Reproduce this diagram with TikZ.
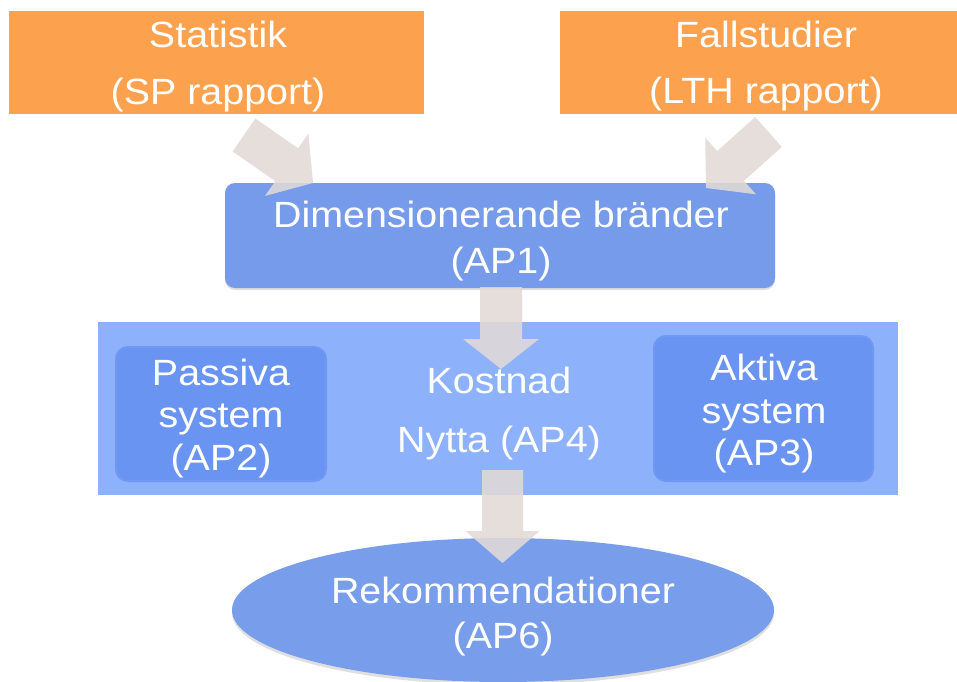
\documentclass[tikz,border=0pt]{standalone}
\usepackage{fontspec}
\setmainfont{Liberation Sans}[FakeStretch=1.08]
\usetikzlibrary{calc,shadows,shapes.geometric}
\definecolor{orangebox}{RGB}{252,161,78}
\definecolor{apblue}{RGB}{118,155,234}
\definecolor{bigblue}{RGB}{141,177,251}
\definecolor{innerblue}{RGB}{106,148,242}
\definecolor{ellblue}{RGB}{120,157,235}
\definecolor{arrowgrey}{RGB}{226,218,215}
\newcommand\blockarr[6]{% start, tip, id, shaft half width, head half width, head length
  \coordinate (#3b) at ($(#2)!#6!(#1)$);
  \fill[arrowfill] ($(#1)!#4!90:(#2)$) -- ($(#3b)!#4!90:(#2)$) -- ($(#3b)!#5!90:(#2)$) -- (#2)
    -- ($(#3b)!#5!-90:(#2)$) -- ($(#3b)!#4!-90:(#2)$) -- ($(#1)!#4!-90:(#2)$) -- cycle;
}
\begin{document}
\begin{tikzpicture}[x=1pt,y=-1pt,
  shapebox/.style={inner sep=0pt, draw=none},
  obox/.style={shapebox, rectangle, fill=orangebox},
  bluebox/.style={shapebox, rectangle, rounded corners=10pt, fill=apblue,
    drop shadow={shadow xshift=0pt, shadow yshift=-2pt, opacity=0.25}},
  innerbox/.style={shapebox, rectangle, rounded corners=12pt, fill=innerblue, draw=innerblue!85!bigblue, line width=2pt},
  arrowfill/.style={fill=arrowgrey, fill opacity=0.88},
  txt/.style={text=white, inner sep=0pt, anchor=base, font=\fontsize{36.5}{44}\selectfont}]
\useasboundingbox (0,0) rectangle (957,681);
\fill[white] (0,0) rectangle (957,681);
% shapes
\node[obox, minimum width=415pt, minimum height=103pt] (stat) at (216.5,62.5) {};
\node[obox, minimum width=412pt, minimum height=103pt] (fall) at (766,62.5) {};
\node[shapebox, rectangle, fill=bigblue, minimum width=800pt, minimum height=173pt] (kn) at (498,408.5) {};
\node[innerbox, minimum width=210pt, minimum height=134pt] (pas) at (221,414) {};
\node[innerbox, minimum width=219pt, minimum height=145pt] (akt) at (763.5,408.5) {};
\node[bluebox, minimum width=550pt, minimum height=105pt] (ap1) at (500,235.5) {};
\node[shapebox, ellipse, fill=ellblue, minimum width=542pt, minimum height=144pt,
  drop shadow={shadow xshift=0pt, shadow yshift=-3pt, opacity=0.25}] (rek) at (503,610) {};
% connectors
\coordinate (s1) at (244,135); \coordinate (t1) at (313,183);
\coordinate (s2) at (768.5,132); \coordinate (t2) at (706,188);
\coordinate (s3) at (501,287); \coordinate (t3) at (501,369);
\coordinate (s4) at (502.5,470); \coordinate (t4) at (502.5,563);
\blockarr{s1}{t1}{a1}{20pt}{38pt}{32pt}
\blockarr{s2}{t2}{a2}{20pt}{38pt}{33pt}
\blockarr{s3}{t3}{a3}{21pt}{38pt}{30pt}
\blockarr{s4}{t4}{a4}{20.5pt}{37pt}{32pt}
% texts
\node[txt] (stat1) at (218,47) {Statistik};
\node[txt] (stat2) at (218,104) {(SP rapport)};
\node[txt] (fall1) at (766,47) {Fallstudier};
\node[txt] (fall2) at (766,103) {(LTH rapport)};
\node[txt] (ap1a) at (501,227) {Dimensionerande bränder};
\node[txt] (ap1b) at (501,273) {(AP1)};
\node[txt] (pas1) at (221,385) {Passiva};
\node[txt] (pas2) at (221,427) {system};
\node[txt] (pas3) at (221,470) {(AP2)};
\node[txt] (kn1) at (499,393) {Kostnad};
\node[txt] (kn2) at (499,452) {Nytta (AP4)};
\node[txt] (akt1) at (764,380) {Aktiva};
\node[txt] (akt2) at (764,423) {system};
\node[txt] (akt3) at (764,465) {(AP3)};
\node[txt] (rek1) at (503,603) {Rekommendationer};
\node[txt] (rek2) at (503,648) {(AP6)};
\end{tikzpicture}
\end{document}
